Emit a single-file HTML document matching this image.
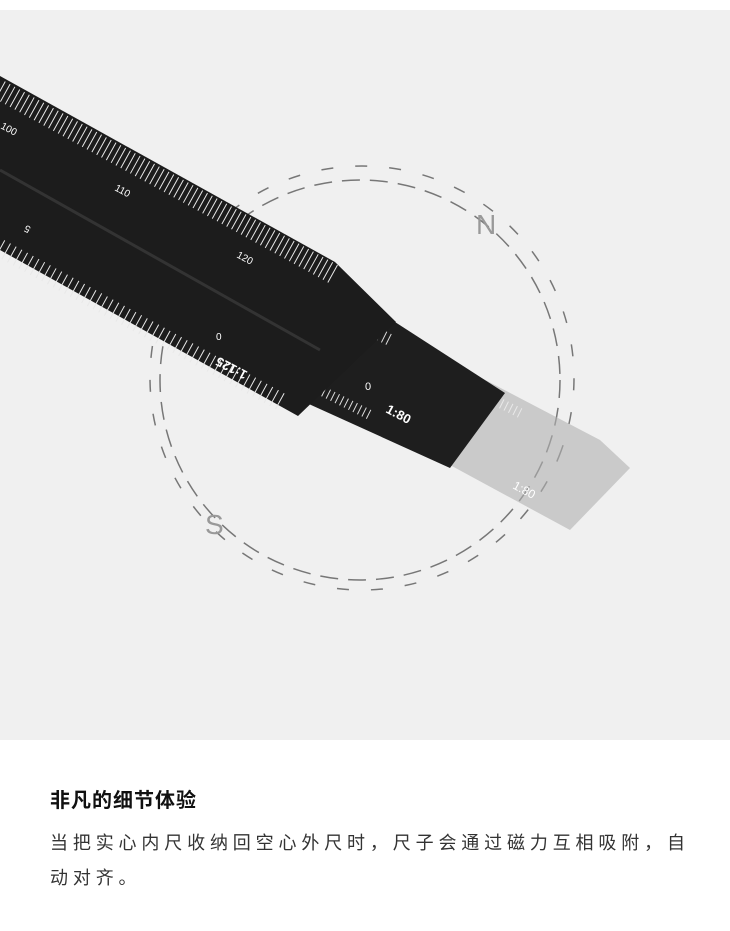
<!DOCTYPE html>
<html><head><meta charset="utf-8"><style>
body{margin:0;width:730px;height:931px;background:#fff;overflow:hidden;font-family:"Liberation Sans","Noto Sans CJK SC",sans-serif}
.top{position:absolute;left:0;top:10px;width:730px;height:730px;background:#f0f0f0}
h1{position:absolute;left:50px;top:784px;margin:0;font-size:20px;font-weight:bold;color:#111;letter-spacing:1px}
p{position:absolute;left:50px;top:826px;margin:0;width:660px;font-size:18px;line-height:35px;color:#333;letter-spacing:4.85px}
</style></head><body>
<div class="top">
<svg width="730" height="730" viewBox="0 10 730 730" xmlns="http://www.w3.org/2000/svg">
<g fill="none" stroke="#777" stroke-width="1.5" stroke-dasharray="18 10">
<circle cx="360" cy="380" r="200"/>
<circle cx="362" cy="378" r="212" stroke-dasharray="12 22" transform="rotate(20 362 378)"/>
</g>
<text x="476" y="234" font-size="28" fill="#999" font-family="Liberation Sans, sans-serif">N</text>
<text x="205" y="534" font-size="28" fill="#999" font-family="Liberation Sans, sans-serif">S</text>
<!-- ghost ruler -->
<polygon points="470,372 600,440 630,468 570,530 450,465" fill="#b0b0b0" opacity="0.6"/>
<line x1="470" y1="388" x2="520" y2="413" stroke="#fff" stroke-width="10" stroke-dasharray="1 4" opacity=".6"/>
<text x="512" y="488" font-size="12" fill="#fff" transform="rotate(28 512 488)">1:80</text>
<!-- inner ruler -->
<polygon points="315,298 345,290 395,322 505,393 450,468 300,400" fill="#1e1e1e"/>
<line x1="330" y1="310" x2="390" y2="340" stroke="#ddd" stroke-width="12" stroke-dasharray="1 4"/>
<line x1="310" y1="385" x2="370" y2="415" stroke="#ddd" stroke-width="10" stroke-dasharray="1 4"/>
<text x="385" y="412" font-size="13" font-weight="bold" fill="#fff" transform="rotate(28 385 412)">1:80</text>
<text x="365" y="390" font-size="11" fill="#fff">0</text>
<!-- main ruler -->
<polygon points="0,76 335,262 396,322 298,416 0,250" fill="#1c1c1c"/>
<line x1="0" y1="170" x2="320" y2="350" stroke="#333" stroke-width="3"/>
<line x1="0" y1="90" x2="335" y2="275" stroke="#e8e8e8" stroke-width="20" stroke-dasharray="1 4.5"/>
<line x1="0" y1="248" x2="285" y2="404" stroke="#e8e8e8" stroke-width="18" stroke-dasharray="1 5.5"/>
<g fill="#fff" font-size="10">
<text x="0" y="128" transform="rotate(28 0 128)">100</text>
<text x="114" y="190" transform="rotate(28 114 190)">110</text>
<text x="236" y="257" transform="rotate(28 236 257)">120</text>
<text x="216" y="340">0</text>
<text x="228" y="357" font-size="13" font-weight="bold" transform="rotate(208 240 362)">1:125</text>
<text x="22" y="225" transform="rotate(208 27 225)">5</text>
</g>
</svg>
</div>
<h1>非凡的细节体验</h1>
<p>当把实心内尺收纳回空心外尺时，尺子会通过磁力互相吸附，自动对齐。</p>
</body></html>
